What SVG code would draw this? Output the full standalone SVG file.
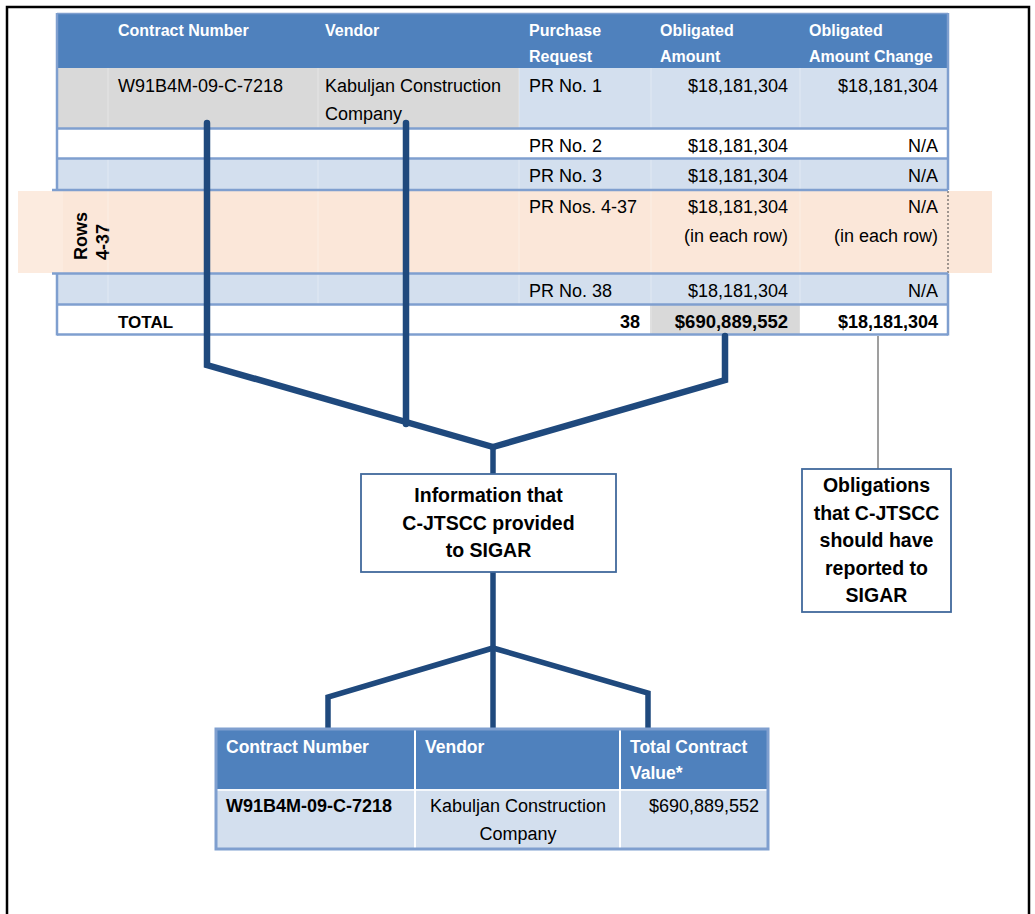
<svg xmlns="http://www.w3.org/2000/svg" width="1035" height="914" viewBox="0 0 1035 914">
<style>
  .hd { font-family: "Liberation Sans", Arial, sans-serif; font-weight: bold; font-size: 16px; fill: #ffffff; }
  .hd2 { font-family: "Liberation Sans", Arial, sans-serif; font-weight: bold; font-size: 17.5px; fill: #ffffff; }
  .td { font-family: "Liberation Sans", Arial, sans-serif; font-size: 18px; fill: #000000; }
  .tb { font-family: "Liberation Sans", Arial, sans-serif; font-size: 18px; font-weight: bold; fill: #000000; }
  .r { text-anchor: end; }
  .c { text-anchor: middle; }
  .bx { font-family: "Liberation Sans", Arial, sans-serif; font-size: 19.5px; font-weight: bold; fill: #000000; text-anchor: middle; }
  .hline { stroke: #7F9FCF; stroke-width: 2.5; fill: none; }
  .sep { stroke: #ffffff; stroke-width: 1; opacity: 0.35; }
  .conn { stroke: #1F497D; stroke-width: 6.5; fill: none; stroke-linecap: round; stroke-linejoin: miter; }
  .conn2 { stroke: #1F497D; stroke-width: 5.5; fill: none; stroke-linecap: butt; stroke-linejoin: miter; }
  .box { fill: #ffffff; stroke: #41699C; stroke-width: 1.8; }
</style>
<rect width="1035" height="914" fill="#ffffff"/>
<rect x="7" y="7" width="1022" height="930" fill="none" stroke="#000000" stroke-width="2.5"/>

<g id="top-table">
  <rect x="57" y="13" width="891" height="55" fill="#4F81BD"/>
  <line x1="57" y1="13.5" x2="948" y2="13.5" stroke="#7F9FCF" stroke-width="1.5"/>
  <text class="hd" x="118" y="36">Contract Number</text>
  <text class="hd" x="325" y="36">Vendor</text>
  <text class="hd" x="529" y="36">Purchase</text>
  <text class="hd" x="529" y="62">Request</text>
  <text class="hd" x="660" y="36">Obligated</text>
  <text class="hd" x="660" y="62">Amount</text>
  <text class="hd" x="809" y="36">Obligated</text>
  <text class="hd" x="809" y="62">Amount Change</text>
  <rect x="57" y="68" width="462" height="60" fill="#D9D9D9"/>
  <rect x="519" y="68" width="429" height="60" fill="#D3DFEE"/>
  <text class="td" x="118" y="92">W91B4M-09-C-7218</text>
  <text class="td" x="325" y="92">Kabuljan Construction</text>
  <text class="td" x="325" y="120">Company</text>
  <text class="td" x="529" y="92">PR No. 1</text>
  <text class="td r" x="788" y="92">$18,181,304</text>
  <text class="td r" x="938" y="92">$18,181,304</text>
  <rect x="57" y="129" width="891" height="29" fill="#ffffff"/>
  <text class="td" x="529" y="152">PR No. 2</text>
  <text class="td r" x="788" y="152">$18,181,304</text>
  <text class="td r" x="938" y="152">N/A</text>
  <rect x="57" y="159" width="891" height="31" fill="#D3DFEE"/>
  <text class="td" x="529" y="182">PR No. 3</text>
  <text class="td r" x="788" y="182">$18,181,304</text>
  <text class="td r" x="938" y="182">N/A</text>
  <rect x="18" y="191" width="974" height="82" fill="#FBE7D9"/>
  <rect x="18" y="191" width="45" height="82" fill="#FCEBDF"/>
  <text class="tb" transform="translate(87,260) rotate(-90)">Rows</text>
  <text class="tb" transform="translate(109,260) rotate(-90)">4-37</text>
  <text class="td" x="529" y="213">PR Nos. 4-37</text>
  <text class="td r" x="788" y="213">$18,181,304</text>
  <text class="td r" x="788" y="242">(in each row)</text>
  <text class="td r" x="938" y="213">N/A</text>
  <text class="td r" x="938" y="242">(in each row)</text>
  <line x1="948" y1="191" x2="948" y2="273" stroke="#444444" stroke-width="1" stroke-dasharray="2,2"/>
  <rect x="57" y="274" width="891" height="30" fill="#D3DFEE"/>
  <text class="td" x="529" y="297">PR No. 38</text>
  <text class="td r" x="788" y="297">$18,181,304</text>
  <text class="td r" x="938" y="297">N/A</text>
  <rect x="57" y="305" width="891" height="29" fill="#ffffff"/>
  <rect x="650" y="305" width="150" height="29" fill="#D9D9D9"/>
  <text class="tb" x="118" y="328" style="font-size:17px">TOTAL</text>
  <text class="tb r" x="640" y="328">38</text>
  <text class="tb r" x="788" y="328" style="font-size:18.5px">$690,889,552</text>
  <text class="tb r" x="938" y="328">$18,181,304</text>
  <g class="sep">
    <line x1="108" y1="68" x2="108" y2="334"/>
    <line x1="318" y1="68" x2="318" y2="334"/>
    <line x1="519" y1="68" x2="519" y2="334"/>
    <line x1="651" y1="68" x2="651" y2="334"/>
    <line x1="800" y1="68" x2="800" y2="334"/>
  </g>
  <line class="hline" x1="57" y1="128.5" x2="948" y2="128.5"/>
  <line class="hline" x1="57" y1="158.5" x2="948" y2="158.5"/>
  <line class="hline" x1="52" y1="190" x2="948" y2="190"/>
  <line class="hline" x1="52" y1="273.5" x2="948" y2="273.5"/>
  <line class="hline" x1="57" y1="304.5" x2="948" y2="304.5"/>
  <line class="hline" x1="57" y1="334.5" x2="948" y2="334.5"/>
  <line class="hline" x1="57" y1="13" x2="57" y2="190"/>
  <line class="hline" x1="57" y1="273.5" x2="57" y2="335.5"/>
  <line class="hline" x1="948" y1="13" x2="948" y2="190"/>
  <line class="hline" x1="948" y1="273.5" x2="948" y2="335.5"/>
</g>

<g id="connectors">
  <path class="conn" d="M207,123 V365 L493,447"/>
  <path class="conn" d="M406,123 V424"/>
  <path class="conn" d="M725,336 V380 L493,447"/>
  <path class="conn2" d="M493,447 V474"/>
  <path class="conn2" d="M493,572 V648"/>
  <path class="conn2" d="M493,648 L328,697 V729"/>
  <path class="conn2" d="M493,648 V729"/>
  <path class="conn2" d="M493,648 L648,693 V729"/>
  <line x1="878" y1="336" x2="878" y2="469" stroke="#7F7F7F" stroke-width="1.5"/>
</g>

<g id="box-info">
  <rect class="box" x="361" y="474" width="255" height="98"/>
  <text class="bx" x="488.5" y="502">Information that</text>
  <text class="bx" x="488.5" y="530">C-JTSCC provided</text>
  <text class="bx" x="488.5" y="557">to SIGAR</text>
</g>

<g id="box-obligations">
  <rect class="box" x="802" y="469" width="149" height="143"/>
  <text class="bx" x="876.5" y="492">Obligations</text>
  <text class="bx" x="876.5" y="519.5">that C-JTSCC</text>
  <text class="bx" x="876.5" y="547">should have</text>
  <text class="bx" x="876.5" y="574.5">reported to</text>
  <text class="bx" x="876.5" y="602">SIGAR</text>
</g>

<g id="bottom-table">
  <rect x="216" y="729" width="552" height="60" fill="#4F81BD"/>
  <rect x="216" y="789" width="552" height="60" fill="#D3DFEE"/>
  <line x1="415" y1="729" x2="415" y2="849" stroke="#ffffff" stroke-width="2"/>
  <line x1="620" y1="729" x2="620" y2="849" stroke="#ffffff" stroke-width="2"/>
  <line x1="216" y1="790" x2="768" y2="790" stroke="#ffffff" stroke-width="1.5"/>
  <rect x="216" y="729" width="552" height="120" fill="none" stroke="#7F9FCF" stroke-width="3"/>
  <text class="hd2" x="226" y="753">Contract Number</text>
  <text class="hd2" x="425" y="753">Vendor</text>
  <text class="hd2" x="630" y="753">Total Contract</text>
  <text class="hd2" x="630" y="779">Value*</text>
  <text class="tb" x="226" y="812">W91B4M-09-C-7218</text>
  <text class="td c" x="518" y="812">Kabuljan Construction</text>
  <text class="td c" x="518" y="840">Company</text>
  <text class="td r" x="759" y="812">$690,889,552</text>
</g>
</svg>
